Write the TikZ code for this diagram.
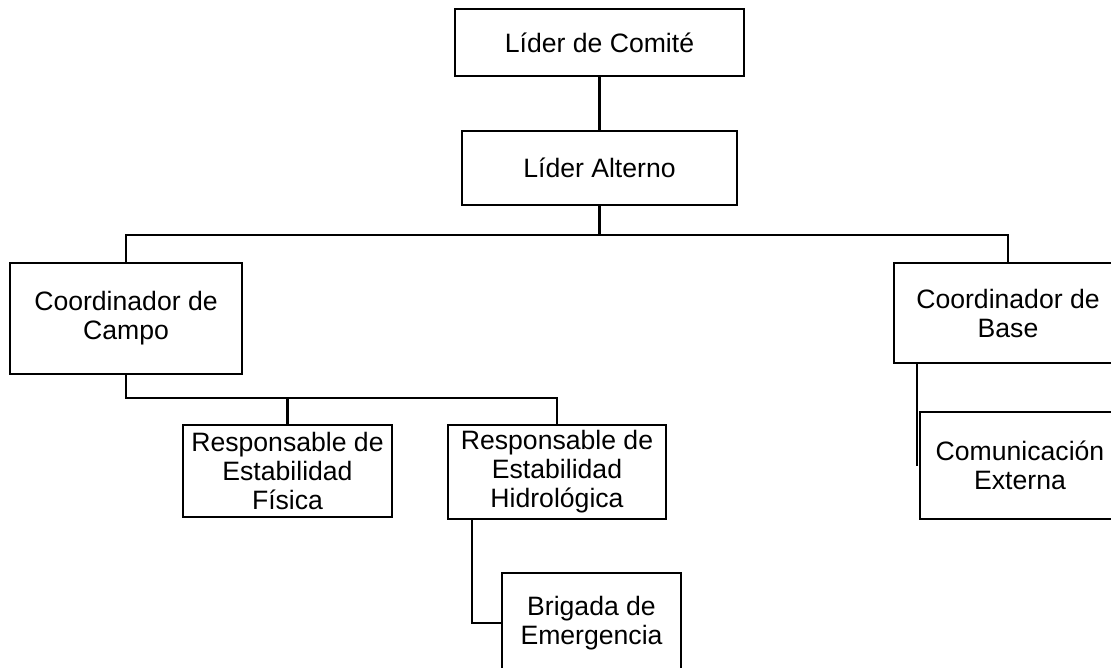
\documentclass[tikz,border=0pt]{standalone}
\usepackage{fontspec}
\setmainfont{Liberation Sans}
\begin{document}
\begin{tikzpicture}[x=1pt,y=-1pt,
  box/.style={draw=black, line width=2.4pt, fill=white, inner sep=0pt, align=center,
    font=\fontsize{26.6}{29}\selectfont},
  link/.style={draw=black, line width=2.4pt}]
\useasboundingbox (0,0) rectangle (1111,668);
\clip (0,0) rectangle (1111,668);
\node[box, minimum width=289pt, minimum height=67pt] (comite) at (599.5,42.5) {Líder de Comité};
\node[box, minimum width=275pt, minimum height=74pt] (alterno) at (599.5,168) {Líder Alterno};
\node[box, minimum width=232pt, minimum height=111pt] (campo) at (126,318.5) {Coordinador de\\Campo};
\node[box, minimum width=228pt, minimum height=100pt] (base) at (1008,313) {Coordinador de\\Base};
\node[box, minimum width=209pt, minimum height=92pt] (fisica) at (287.5,471) {Responsable de\\Estabilidad\\Física};
\node[box, minimum width=218pt, minimum height=94pt] (hidro) at (557,472) {Responsable de\\Estabilidad\\Hidrológica};
\node[box, minimum width=179pt, minimum height=100pt] (brigada) at (591.5,623) {Brigada de\\Emergencia};
\node[box, minimum width=200pt, minimum height=107pt] (com) at (1020,465.5) {Comunicación\\Externa};
\coordinate (bus1) at (599.5,235);
\coordinate (bus2) at (127,398);
% connectors
\draw[link] (comite.south) -- (alterno.north);
\draw[link] (alterno.south) -- (bus1);
\draw[link] (campo.north) -- (campo.north |- bus1) -- (base.north |- bus1) -- (base.north);
\draw[link] (campo.south) -- (campo.south |- bus2) -- (hidro.north |- bus2) -- (hidro.north);
\draw[link] (fisica.north |- bus2) -- (fisica.north);
\draw[link] ([xshift=-85pt]hidro.south) -- ([xshift=-85pt]hidro.south |- brigada.west) -- (brigada.west);
\draw[link] ([xshift=-2pt]com.west |- base.south) -- ([xshift=-2pt]com.west);
\end{tikzpicture}
\end{document}
